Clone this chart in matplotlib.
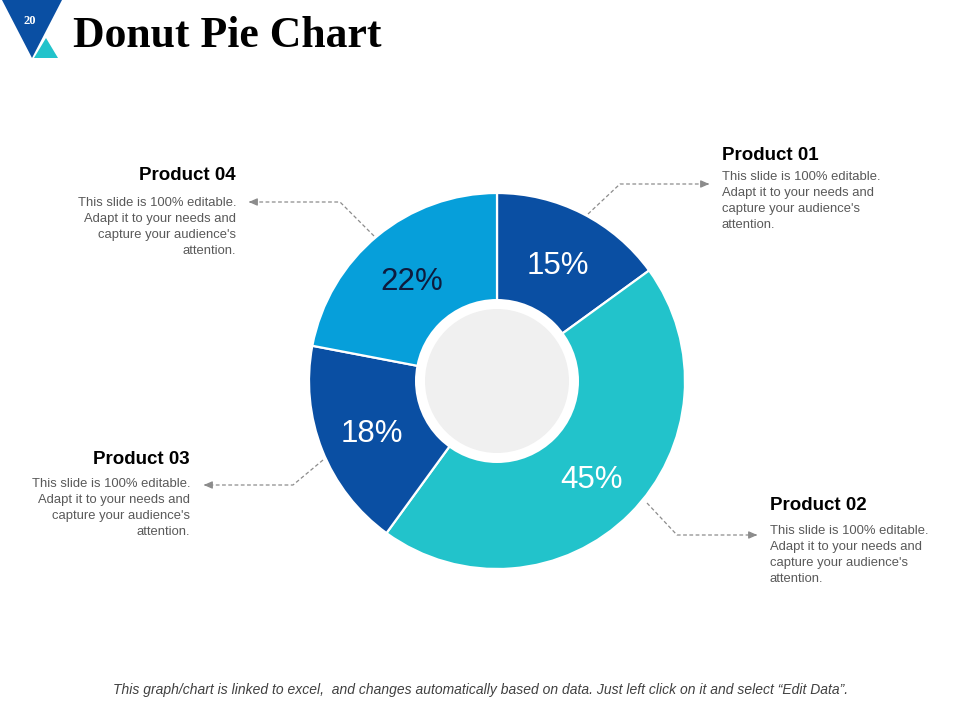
import matplotlib
matplotlib.use("Agg")
import matplotlib.pyplot as plt
from matplotlib.patches import Circle, Polygon

# ---- data ----
products = ["Product 01", "Product 02", "Product 03", "Product 04"]
shares = [15, 45, 18, 22]
slice_colors = ["#0A4FA3", "#22C3CB", "#0A4FA3", "#069FDA"]
pct_colors = ["white", "white", "white", "#0E1B3D"]
desc_lines = ["This slide is 100% editable.", "Adapt it to your needs and",
              "capture your audience's", "attention."]
title = "Donut Pie Chart"
slide_no = "20"
footer = ("This graph/chart is linked to excel,  and changes automatically based on data. "
          "Just left click on it and select \u201cEdit Data\u201d.")

W, H = 960, 720
fig = plt.figure(figsize=(9.6, 7.2), dpi=100)
ax = fig.add_axes([0, 0, 1, 1])

def Y(y):  # pixel-from-top to data y
    return H - y

cx, cy, R = 497, Y(381), 188
wedges, texts, autotexts = ax.pie(
    shares, colors=slice_colors, startangle=90, counterclock=False,
    radius=R, center=(cx, cy), autopct="%d%%", pctdistance=0.713,
    wedgeprops=dict(edgecolor="white", linewidth=1.6),
    textprops=dict(fontsize=22.5, family="Liberation Sans"))
for t, c in zip(autotexts, pct_colors):
    t.set_color(c)
    x0, y0 = t.get_position()
    t.set_position((x0, y0 - 4))

ax.add_patch(Circle((cx, cy), 82, facecolor="white", edgecolor="none", zorder=3))
ax.add_patch(Circle((cx, cy), 72, facecolor="#F0F0F0", edgecolor="none", zorder=4))

ax.set_xlim(0, W)
ax.set_ylim(0, H)
ax.set_aspect("equal")
ax.axis("off")

# ---- header ----
ax.add_patch(Polygon([(2, Y(0)), (62, Y(0)), (32, Y(58))], closed=True,
                     facecolor="#0A4FA3", edgecolor="none"))
ax.add_patch(Polygon([(34, Y(58)), (46, Y(38)), (58, Y(58))], closed=True,
                     facecolor="#22C3CB", edgecolor="none"))
ax.text(30, Y(21), slide_no, color="white", fontsize=9, fontweight="bold",
        family="Liberation Serif", ha="center", va="center")
ax.text(73, Y(36), title, fontsize=31.5, fontweight="bold", family="Liberation Serif",
        ha="left", va="center", color="black")

# ---- callouts ----
# (title x, title y, alignment, first desc line y, connector path)
callouts = {
    "Product 01": (722, 155, "left", 177, [(588, 214), (620, 184), (712, 184)]),
    "Product 02": (770, 506, "left", 531, [(647, 503), (677, 535), (760, 535)]),
    "Product 03": (190, 460, "right", 484, [(323, 460), (293, 485), (201, 485)]),
    "Product 04": (236, 175, "right", 203, [(374, 236), (340, 202), (246, 202)]),
}
for name in products:
    tx, ty, ha, dy, path = callouts[name]
    ax.text(tx, Y(ty), name, fontsize=13.5,
            fontweight="bold", family="Liberation Sans", ha=ha, va="center", color="black")
    for i, line in enumerate(desc_lines):
        ax.text(tx, Y(dy + 16 * i), line, fontsize=9.4, family="Liberation Sans",
                ha=ha, va="center", color="#595959")
    xs = [p[0] for p in path]
    ys = [Y(p[1]) for p in path]
    ax.plot(xs[:-1] + [xs[-1] + (-6 if xs[-1] > xs[-2] else 6)], ys,
            color="#8C8C8C", lw=0.9, ls=(0, (3, 2)))
    ax.annotate("", xy=(xs[-1], ys[-1]), xytext=(xs[-1] + (-8 if xs[-1] > xs[-2] else 8), ys[-1]),
                arrowprops=dict(arrowstyle="-|>,head_length=0.5,head_width=0.22",
                                color="#8C8C8C", lw=0.9))

# ---- footer ----
ax.text(481, Y(690), footer, fontsize=10, style="italic",
        family="Liberation Sans", ha="center", va="center",
        color="#404040")

fig.savefig("out.png", dpi=100)
